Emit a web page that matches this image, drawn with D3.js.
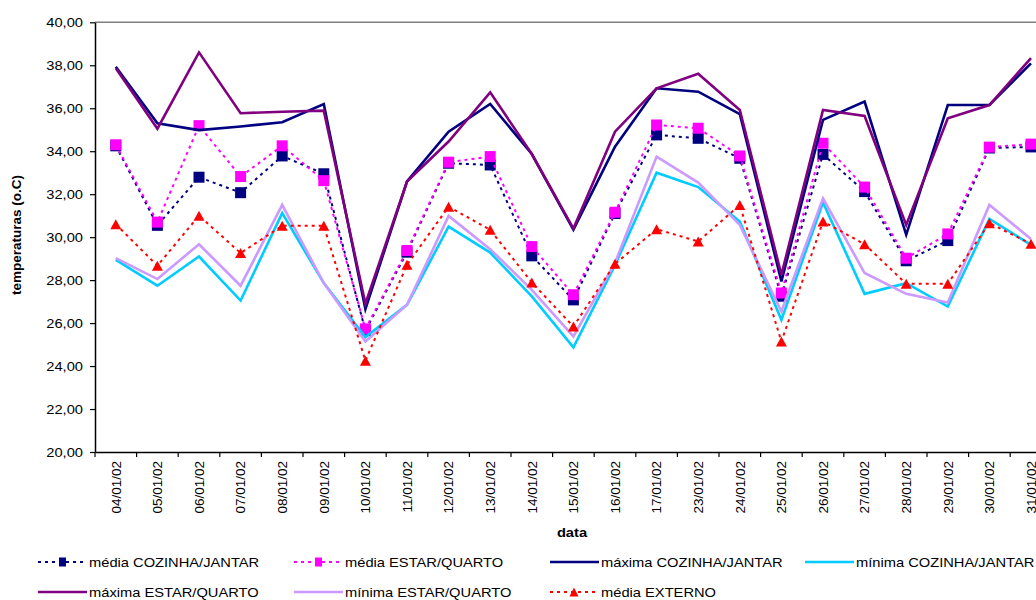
<!DOCTYPE html>
<html>
<head>
<meta charset="utf-8">
<script src="https://cdn.jsdelivr.net/npm/d3@7"></script>
<style>
  html, body { margin: 0; padding: 0; background: #fff; }
  svg { display: block; font-family: "Liberation Sans", Arial, sans-serif; }
</style>
</head>
<body>
<svg id="chart" width="1036" height="600"></svg>
<script>
const categories = ["04/01/02","05/01/02","06/01/02","07/01/02","08/01/02","09/01/02","10/01/02","11/01/02","12/01/02","13/01/02","14/01/02","15/01/02","16/01/02","17/01/02","23/01/02","24/01/02","25/01/02","26/01/02","27/01/02","28/01/02","29/01/02","30/01/02","31/01/02"];

const mediaCozinha = [34.25,30.55,32.79,32.07,33.78,32.95,25.65,29.30,33.44,33.36,29.13,27.08,31.10,34.76,34.60,33.67,27.25,33.85,32.12,28.90,29.84,34.15,34.20];
const mediaEstar   = [34.30,30.70,35.19,32.82,34.25,32.63,25.73,29.38,33.49,33.75,29.56,27.32,31.16,35.22,35.07,33.78,27.40,34.37,32.33,29.02,30.15,34.19,34.33];
const maximaCozinha= [37.93,35.30,34.98,35.15,35.35,36.19,26.65,32.59,34.91,36.20,33.87,30.35,34.21,36.93,36.77,35.73,27.94,35.46,36.31,30.11,36.15,36.15,38.09];
const minimaCozinha= [28.94,27.74,29.10,27.05,31.12,27.86,25.35,26.85,30.49,29.28,27.24,24.87,28.70,33.00,32.33,30.73,26.15,31.61,27.36,27.86,26.77,30.85,29.64];
const maximaEstar  = [37.86,35.05,38.60,35.77,35.84,35.89,26.90,32.59,34.45,36.74,33.87,30.40,34.91,36.93,37.61,35.92,28.25,35.92,35.64,30.57,35.53,36.15,38.33];
const minimaEstar  = [29.02,28.05,29.67,27.74,31.50,27.86,25.14,26.85,30.99,29.44,27.55,25.38,28.80,33.75,32.54,30.57,26.54,31.81,28.33,27.36,26.96,31.50,29.91];
const mediaExterno = [30.60,28.67,31.00,29.26,30.53,30.53,24.25,28.71,31.42,30.34,27.89,25.84,28.76,30.37,29.80,31.50,25.14,30.73,29.67,27.83,27.83,30.65,29.69];

const yTicks = [20,22,24,26,28,30,32,34,36,38,40];

const seriesNames = ["média COZINHA/JANTAR","média ESTAR/QUARTO","máxima COZINHA/JANTAR","mínima COZINHA/JANTAR","máxima ESTAR/QUARTO","mínima ESTAR/QUARTO","média EXTERNO"];
const seriesValues = [mediaCozinha, mediaEstar, maximaCozinha, minimaCozinha, maximaEstar, minimaEstar, mediaExterno];
const seriesColors = ["#000080","#FF00FF","#000080","#00CCFF","#800080","#CC99FF","#FF0000"];
const seriesDashed = [true,true,false,false,false,false,true];
const seriesMarker = ["square","square",null,null,null,null,"triangle"];

const svg = d3.select("#chart");
const plotLeft = 95, plotTop = 22.3, plotBottom = 452, step = 41.6;
const x = d3.scaleBand().domain(categories).range([plotLeft, plotLeft + step*categories.length]).padding(0);
const y = d3.scaleLinear().domain([20,40]).range([plotBottom, plotTop]);
const cx = c => x(c) + x.bandwidth()/2;
const SX = 1.13;

// plot area border (top)
svg.append("line").attr("x1", plotLeft).attr("x2", 1036).attr("y1", y(40)).attr("y2", y(40))
  .attr("stroke", "#808080").attr("stroke-width", 1.5);

// Y axis
const yAxis = svg.append("g").attr("transform", `translate(${plotLeft},0)`)
  .call(d3.axisLeft(y).tickValues(yTicks).tickSize(5).tickSizeOuter(0)
    .tickFormat(d => d.toFixed(2).replace(".", ",")));
yAxis.select(".domain").attr("stroke", "#000").attr("stroke-width", 1.5);
yAxis.selectAll(".tick line").attr("stroke", "#000").attr("stroke-width", 1.2);
yAxis.selectAll(".tick text").attr("x", null).attr("dy", "0.35em")
  .attr("transform", `translate(-12,0) scale(${SX},1)`)
  .attr("font-size", 13).attr("fill", "#000").attr("font-family", "Liberation Sans, Arial, sans-serif");

// X axis
const xAxis = svg.append("g").attr("transform", `translate(0,${plotBottom})`)
  .call(d3.axisBottom(x).tickSize(0).tickSizeOuter(0));
xAxis.select(".domain").attr("stroke", "#000").attr("stroke-width", 1.5);
xAxis.selectAll(".tick text")
  .attr("transform", "translate(0,9) rotate(-90)")
  .attr("y", 0).attr("x", 0).attr("dy", "0.35em")
  .attr("text-anchor", "end")
  .attr("font-size", 13.5).attr("fill", "#000").attr("font-family", "Liberation Sans, Arial, sans-serif");
// tick marks at band boundaries
const bounds = categories.map(c => x(c)).concat([x.range()[1]]);
xAxis.selectAll("line.bt").data(bounds).enter().append("line").attr("class","bt")
  .attr("x1", d => d).attr("x2", d => d).attr("y1", 0).attr("y2", 5)
  .attr("stroke", "#000").attr("stroke-width", 1.2);

// axis titles
svg.append("text").attr("transform", "translate(21,235) rotate(-90)")
  .attr("text-anchor", "middle").attr("font-weight", "bold").attr("font-size", 13.5)
  .text("temperaturas (o.C)");
svg.append("text").attr("transform", `translate(572,537) scale(${SX},1)`)
  .attr("text-anchor", "middle").attr("font-weight", "bold").attr("font-size", 13)
  .text("data");

// series
const line = d3.line().x((d,i) => cx(categories[i])).y(d => y(d));
const sqPath = s => `M${-s/2},${-s/2}h${s}v${s}h${-s}Z`;
const triPath = (w,h) => `M0,${-h/2}L${w/2},${h/2}L${-w/2},${h/2}Z`;

seriesValues.forEach((vals, k) => {
  const g = svg.append("g");
  g.append("path").datum(vals).attr("d", line)
    .attr("fill", "none").attr("stroke", seriesColors[k])
    .attr("stroke-width", seriesDashed[k] ? 2 : 2.6)
    .attr("stroke-dasharray", seriesDashed[k] ? "3,4" : null)
    .attr("stroke-linejoin", "miter");
  if (seriesMarker[k]) {
    g.selectAll("path.m").data(vals).enter().append("path").attr("class","m")
      .attr("transform", (d,i) => `translate(${cx(categories[i])},${y(d)})`)
      .attr("d", seriesMarker[k] === "square" ? sqPath(11) : triPath(11,10))
      .attr("fill", seriesColors[k]);
  }
});

// legend
const legendPos = [[38,562],[294,562],[550,562],[805,562],[38,592],[294,592],[550,592]];
seriesNames.forEach((name, k) => {
  const [lx, ly] = legendPos[k];
  const g = svg.append("g");
  g.append("line").attr("x1", lx).attr("x2", lx+49).attr("y1", ly).attr("y2", ly)
    .attr("stroke", seriesColors[k]).attr("stroke-width", seriesDashed[k] ? 2 : 2.6)
    .attr("stroke-dasharray", seriesDashed[k] ? "3,4" : null);
  if (seriesMarker[k] === "square") {
    g.append("rect").attr("x", lx+21).attr("y", ly-4.5).attr("width", 7).attr("height", 9)
      .attr("fill", seriesColors[k]);
  } else if (seriesMarker[k] === "triangle") {
    g.append("path").attr("transform", `translate(${lx+24},${ly})`).attr("d", triPath(9,9))
      .attr("fill", seriesColors[k]);
  }
  g.append("text").attr("transform", `translate(${lx+51},${ly}) scale(${SX},1)`)
    .attr("dy", "0.35em").attr("font-size", 13).attr("fill", "#000").text(name);
});
</script>
</body>
</html>
